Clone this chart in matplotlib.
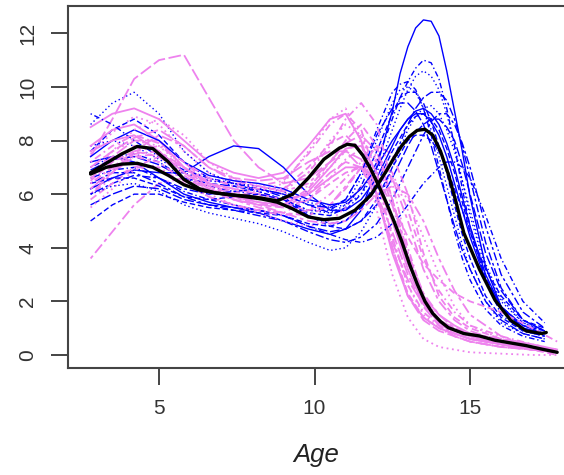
import matplotlib
matplotlib.use("Agg")
import matplotlib.pyplot as plt

# ==========================
# DATA (growth velocity, cm/year)
# ==========================

girl_ages = [2.8, 3.5, 4.2, 5.0, 5.8, 6.6, 7.4, 8.2, 9.0, 9.8, 10.5, 11.0,
             11.5, 12.0, 12.5, 13.0, 13.5, 14.0, 14.5, 15.0, 16.0, 17.0, 17.8]

boy_ages = [2.8, 3.5, 4.2, 5.0, 5.8, 6.6, 7.4, 8.2, 9.0, 9.8, 10.5, 11.0,
            11.5, 12.0, 12.5, 12.75, 13.0, 13.25, 13.5, 13.75, 14.0, 14.25,
            14.5, 14.75, 15.0, 15.5, 16.0, 16.7, 17.4]

girls_vel = [
    [6.5, 7.2, 7.8, 7.6, 6.8, 6.3, 6.0, 5.9, 6.2, 7.0, 7.9, 8.2, 7.6, 6.0, 4.0, 2.3, 1.4, 1.0, 0.8, 0.6, 0.4, 0.2, 0.1],
    [7.5, 8.3, 8.9, 8.6, 7.6, 6.8, 6.4, 6.2, 6.0, 6.3, 7.0, 7.6, 8.0, 7.4, 5.8, 3.8, 2.2, 1.3, 0.9, 0.7, 0.5, 0.3, 0.1],
    [6.0, 6.6, 7.0, 7.0, 6.4, 5.9, 5.6, 5.4, 5.3, 5.8, 6.6, 7.3, 7.7, 7.2, 5.6, 3.6, 2.1, 1.2, 0.8, 0.6, 0.4, 0.2, 0.1],
    [7.4, 8.8, 10.3, 11.0, 11.2, 9.6, 8.0, 7.0, 6.4, 6.6, 7.2, 7.6, 7.3, 6.0, 4.0, 2.2, 1.3, 0.9, 0.7, 0.5, 0.3, 0.2, 0.1],
    [3.6, 4.6, 5.6, 6.4, 6.6, 6.2, 5.8, 5.5, 5.3, 5.2, 5.6, 6.3, 7.0, 7.3, 6.6, 5.0, 3.2, 2.0, 1.3, 0.9, 0.5, 0.3, 0.1],
    [8.5, 9.0, 9.2, 8.8, 8.0, 7.2, 6.8, 6.6, 6.8, 7.8, 8.8, 9.0, 8.0, 6.0, 3.8, 2.2, 1.4, 1.0, 0.8, 0.6, 0.4, 0.3, 0.2],
    [6.2, 6.8, 7.4, 7.5, 7.0, 6.4, 6.1, 5.9, 5.6, 5.4, 5.6, 6.2, 7.0, 7.8, 7.5, 6.0, 3.8, 2.2, 1.4, 1.0, 0.6, 0.3, 0.1],
    [5.5, 6.2, 6.9, 7.1, 6.6, 6.0, 5.6, 5.3, 5.0, 4.8, 5.0, 5.5, 6.3, 6.8, 6.6, 5.8, 4.4, 3.0, 1.8, 1.1, 0.6, 0.3, 0.1],
    [7.2, 7.8, 8.2, 7.9, 7.0, 6.5, 6.4, 6.3, 6.5, 7.5, 8.6, 9.0, 8.4, 6.6, 4.4, 2.6, 1.6, 1.1, 0.8, 0.6, 0.4, 0.2, 0.1],
    [6.8, 7.4, 8.0, 8.0, 7.2, 6.4, 6.0, 5.7, 5.5, 6.0, 6.8, 7.2, 7.0, 6.0, 4.6, 3.0, 1.8, 1.1, 0.7, 0.5, 0.3, 0.2, 0.1],
    [6.0, 6.8, 7.6, 8.2, 7.8, 7.0, 6.5, 6.3, 6.1, 6.4, 7.2, 7.9, 8.2, 7.6, 5.8, 3.8, 2.3, 1.5, 1.0, 0.8, 0.5, 0.3, 0.1],
    [7.8, 8.4, 8.6, 8.0, 7.0, 6.4, 6.2, 6.0, 5.8, 6.0, 6.6, 7.0, 7.0, 6.4, 5.0, 3.4, 2.2, 1.5, 1.1, 0.8, 0.5, 0.3, 0.1],
    [5.8, 6.4, 7.0, 7.4, 7.0, 6.2, 5.8, 5.6, 5.6, 6.2, 7.2, 8.0, 8.6, 7.8, 5.8, 3.6, 2.0, 1.2, 0.8, 0.6, 0.4, 0.2, 0.0],
    [6.6, 7.6, 8.4, 8.8, 8.2, 7.2, 6.6, 6.3, 6.1, 6.8, 8.0, 8.6, 8.2, 6.6, 4.4, 2.6, 1.5, 1.0, 0.7, 0.5, 0.3, 0.2, 0.1],
    [6.4, 7.0, 7.4, 7.2, 6.5, 5.9, 5.6, 5.4, 5.2, 5.4, 6.0, 6.6, 7.2, 7.4, 6.8, 5.4, 3.6, 2.4, 1.6, 1.1, 0.7, 0.4, 0.2],
    [7.0, 7.6, 8.1, 8.4, 7.8, 7.0, 6.6, 6.5, 6.6, 7.2, 7.6, 7.6, 7.0, 5.8, 4.2, 2.8, 1.9, 1.3, 1.0, 0.8, 0.6, 0.4, 0.2],
    [6.2, 6.9, 7.5, 7.6, 7.0, 6.3, 5.9, 5.6, 5.3, 5.0, 4.9, 5.0, 5.4, 6.0, 6.3, 6.0, 5.0, 3.6, 2.4, 1.5, 0.7, 0.3, 0.1],
    [7.6, 8.0, 8.2, 7.6, 6.8, 6.2, 5.9, 5.7, 5.6, 6.1, 7.0, 7.7, 7.8, 6.8, 5.0, 3.2, 1.9, 1.2, 0.9, 0.7, 0.4, 0.2, 0.1],
    [6.6, 7.2, 7.6, 7.4, 6.7, 6.1, 5.8, 5.6, 5.5, 5.8, 6.4, 6.8, 7.0, 6.6, 5.6, 4.4, 3.4, 2.8, 2.3, 2.0, 1.6, 1.0, 0.5],
    [7.0, 7.6, 8.0, 7.8, 7.0, 6.4, 6.2, 6.1, 6.4, 7.6, 8.8, 9.2, 8.0, 5.4, 3.0, 1.4, 0.6, 0.3, 0.2, 0.1, 0.05, 0.0, 0.0],
    [6.4, 7.0, 7.6, 7.8, 7.2, 6.6, 6.3, 6.2, 6.2, 6.8, 7.8, 8.8, 9.4, 8.6, 6.4, 4.0, 2.2, 1.3, 0.9, 0.7, 0.4, 0.2, 0.1],
]

boys_vel = [
    [7.2, 7.4, 7.2, 6.6, 6.0, 5.7, 5.5, 5.3, 5.0, 4.7, 4.5, 4.7, 5.4, 7.0, 9.1, 10.5, 11.5, 12.2, 12.5, 12.45, 11.9, 10.6, 9.1, 7.6, 5.9, 3.3, 1.8, 1.0, 0.8],
    [7.6, 8.4, 8.8, 8.2, 7.2, 6.6, 6.3, 6.1, 5.8, 5.3, 5.2, 5.5, 6.3, 7.6, 9.0, 9.6, 9.8, 9.8, 9.4, 8.7, 7.8, 6.8, 5.6, 4.5, 3.6, 2.2, 1.4, 0.9, 0.7],
    [8.6, 9.4, 9.8, 9.0, 7.6, 6.8, 6.4, 6.1, 5.8, 5.4, 5.3, 5.6, 6.6, 8.0, 9.4, 9.9, 10.0, 9.8, 9.2, 8.4, 7.4, 6.3, 5.2, 4.1, 3.2, 2.0, 1.2, 0.8, 0.6],
    [7.0, 7.4, 7.5, 7.2, 6.6, 6.3, 6.1, 6.0, 5.8, 5.4, 5.4, 5.8, 6.8, 8.4, 9.8, 10.1, 10.2, 9.9, 9.2, 8.2, 7.0, 5.8, 4.6, 3.6, 2.8, 1.7, 1.1, 0.7, 0.5],
    [5.6, 6.0, 6.3, 6.2, 5.8, 5.6, 5.5, 5.4, 5.2, 4.8, 4.6, 4.7, 5.0, 5.6, 6.6, 7.2, 7.8, 8.3, 8.6, 8.8, 8.8, 8.5, 8.0, 7.1, 6.0, 3.8, 2.4, 1.3, 0.9],
    [6.4, 6.8, 6.8, 6.4, 5.9, 5.6, 5.4, 5.2, 5.0, 4.6, 4.3, 4.2, 4.4, 4.9, 5.8, 6.4, 7.0, 7.6, 8.2, 8.7, 9.0, 9.0, 8.6, 7.9, 7.0, 4.8, 3.0, 1.6, 1.0],
    [6.2, 6.6, 6.9, 6.8, 6.8, 7.4, 7.8, 7.7, 7.0, 6.0, 5.4, 5.4, 5.8, 6.6, 7.8, 8.4, 8.8, 9.1, 9.2, 9.0, 8.6, 7.9, 7.0, 5.9, 4.8, 3.0, 1.8, 1.0, 0.8],
    [5.0, 5.6, 6.0, 6.0, 5.7, 5.5, 5.4, 5.3, 5.2, 4.9, 4.8, 5.0, 5.6, 6.4, 7.6, 8.1, 8.6, 8.9, 9.0, 8.8, 8.4, 7.7, 6.8, 5.7, 4.6, 2.9, 1.8, 1.1, 0.9],
    [7.8, 8.0, 7.8, 7.3, 6.8, 6.5, 6.4, 6.3, 6.1, 5.7, 5.5, 5.6, 6.0, 6.8, 8.4, 9.2, 9.9, 10.4, 10.6, 10.4, 9.9, 9.0, 7.8, 6.5, 5.2, 3.2, 2.0, 1.2, 0.9],
    [6.6, 6.9, 7.0, 6.6, 6.1, 5.8, 5.6, 5.4, 5.2, 4.8, 4.5, 4.3, 4.2, 4.4, 4.9, 5.2, 5.6, 6.0, 6.4, 6.7, 7.0, 7.2, 7.2, 7.0, 6.6, 5.2, 3.6, 2.0, 1.2],
    [6.9, 7.3, 7.4, 7.1, 6.6, 6.4, 6.3, 6.2, 6.0, 5.6, 5.5, 5.8, 6.8, 8.2, 9.2, 9.4, 9.4, 9.1, 8.6, 7.8, 6.8, 5.8, 4.8, 3.9, 3.2, 2.0, 1.3, 0.8, 0.6],
    [6.0, 6.4, 6.7, 6.6, 6.2, 6.0, 6.1, 6.2, 5.9, 5.2, 4.9, 5.0, 5.5, 6.2, 7.2, 7.9, 8.6, 9.2, 9.6, 9.8, 9.8, 9.5, 8.8, 7.8, 6.6, 4.2, 2.5, 1.3, 0.9],
    [7.4, 8.0, 8.4, 8.0, 7.2, 6.7, 6.5, 6.4, 6.2, 5.8, 5.6, 5.7, 6.2, 7.0, 8.0, 8.4, 8.8, 9.0, 9.0, 8.7, 8.2, 7.4, 6.4, 5.4, 4.4, 2.8, 1.8, 1.1, 0.8],
    [6.4, 6.6, 6.6, 6.3, 5.9, 5.8, 5.9, 6.0, 5.8, 5.2, 4.8, 4.7, 5.0, 5.8, 7.0, 7.5, 8.0, 8.2, 8.2, 8.0, 7.6, 7.0, 6.2, 5.4, 4.6, 3.2, 2.2, 1.3, 1.0],
    [6.0, 6.3, 6.4, 6.1, 5.6, 5.3, 5.1, 4.9, 4.6, 4.2, 3.9, 4.0, 4.6, 5.6, 7.0, 7.7, 8.4, 8.9, 9.2, 9.3, 9.0, 8.4, 7.6, 6.5, 5.4, 3.4, 2.1, 1.2, 0.9],
    [9.0, 8.6, 8.0, 7.4, 6.9, 6.6, 6.4, 6.2, 6.0, 5.6, 5.3, 5.4, 6.0, 7.2, 8.8, 9.6, 10.2, 10.7, 11.0, 10.9, 10.3, 9.2, 7.8, 6.2, 4.8, 2.8, 1.5, 0.9, 0.7],
]

girls_mean_ages = [2.8, 3.3, 3.8, 4.3, 4.8, 5.3, 5.8, 6.3, 6.8, 7.3, 7.8, 8.3,
                   8.8, 9.3, 9.8, 10.3, 10.8, 11.05, 11.3, 11.55, 11.8, 12.05,
                   12.3, 12.55, 12.8, 13.05, 13.3, 13.55, 13.8, 14.05, 14.3,
                   14.8, 15.3, 15.8, 16.3, 16.8, 17.3, 17.8]

girls_mean = [6.8, 7.15, 7.5, 7.78, 7.7, 7.2, 6.55, 6.2, 6.05, 5.97, 5.93,
              5.85, 5.75, 6.0, 6.6, 7.3, 7.72, 7.86, 7.82, 7.45, 6.95, 6.35,
              5.7, 5.0, 4.25, 3.4, 2.65, 2.0, 1.55, 1.25, 1.02, 0.8, 0.71,
              0.55, 0.45, 0.35, 0.22, 0.1]

boys_mean_ages = [2.8, 3.3, 3.8, 4.3, 4.8, 5.3, 5.8, 6.3, 6.8, 7.3, 7.8, 8.3,
                  8.8, 9.3, 9.8, 10.3, 10.8, 11.3, 11.8, 12.3, 12.55, 12.8,
                  13.05, 13.3, 13.55, 13.8, 14.05, 14.3, 14.55, 14.8, 15.3,
                  15.8, 16.3, 16.8, 17.3, 17.45]

boys_mean = [6.75, 7.0, 7.12, 7.15, 7.0, 6.7, 6.35, 6.15, 6.05, 5.98, 5.9,
             5.82, 5.7, 5.45, 5.15, 5.05, 5.1, 5.4, 5.95, 6.85, 7.35, 7.8,
             8.15, 8.38, 8.42, 8.2, 7.6, 6.75, 5.7, 4.55, 3.2, 2.05, 1.3,
             0.9, 0.8, 0.84]

# R style line types 1..6
line_types = ["-", (0, (4, 2)), (0, (1, 2)), (0, (1, 2, 4, 2)),
              (0, (7, 2)), (0, (2, 2, 6, 2))]

# ==========================
# PLOT
# ==========================

plt.rcParams["font.family"] = ["Liberation Sans", "DejaVu Sans"]

fig = plt.figure(figsize=(5.64, 4.75), dpi=100)
ax = fig.add_axes([0.1206, 0.2253, 0.8794, 0.7621])

n = max(len(girls_vel), len(boys_vel))
for i in range(n):
    if i < len(girls_vel):
        ax.plot(girl_ages, girls_vel[i], color="violet", lw=1.3,
                linestyle=line_types[(i + 1) % 6], zorder=2)
    if i < len(boys_vel):
        ax.plot(boy_ages, boys_vel[i], color="blue", lw=1.0,
                linestyle=line_types[i % 6], zorder=2)

ax.plot(girls_mean_ages, girls_mean, color="black", lw=2.4,
        solid_capstyle="round", solid_joinstyle="round", zorder=3)
ax.plot(boys_mean_ages, boys_mean, color="black", lw=2.4,
        solid_capstyle="round", solid_joinstyle="round", zorder=3)

ax.set_xlim(2.074, 18.02)
ax.set_ylim(-0.485, 13.02)

ax.set_xticks([5, 10, 15])
ax.set_yticks([0, 2, 4, 6, 8, 10, 12])
ax.set_yticklabels(["0", "2", "4", "6", "8", "10", "12"],
                   rotation=90, va="center")

ax.tick_params(axis="both", length=12, width=1.4, color="#444444",
               labelsize=15, labelcolor="#333333", pad=10)

for side in ["left", "bottom", "top"]:
    ax.spines[side].set_linewidth(1.5)
    ax.spines[side].set_color("#444444")
ax.spines["right"].set_visible(False)

ax.set_xlabel("Age", fontsize=18.5, style="italic", color="#222222",
              labelpad=18)

fig.savefig("out.png", dpi=100)
